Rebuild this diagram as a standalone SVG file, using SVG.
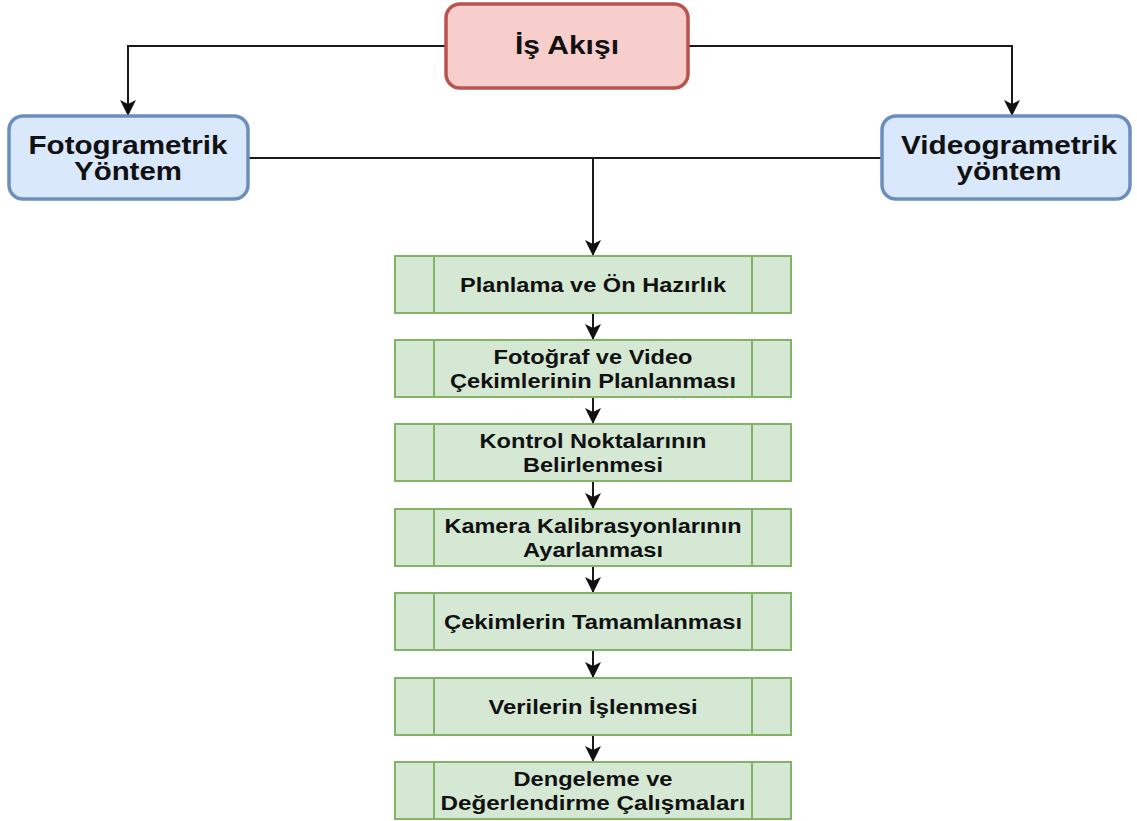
<svg xmlns="http://www.w3.org/2000/svg" width="1137" height="821" viewBox="0 0 1137 821">
<style>
.t{font-family:"Liberation Sans",Arial,sans-serif;font-weight:bold;fill:#111;text-anchor:middle}
.big{font-size:25px}
.sm{font-size:20px}
.red{fill:#f8cecc;stroke:#b85450;stroke-width:3.5}
.blue{fill:#dae8fc;stroke:#6c8ebf;stroke-width:3.5}
.grn{fill:#d5e8d4;stroke:#82b366;stroke-width:2}
.div{stroke:#82b366;stroke-width:2;fill:none}
.c{fill:none;stroke:#1a1a1a;stroke-width:2}
</style>
<defs>
<marker id="ah" markerUnits="userSpaceOnUse" markerWidth="18" markerHeight="18" viewBox="0 0 18 18" refX="16" refY="9" orient="auto">
<path d="M1,1 L17,9 L1,17 L5,9 Z" fill="#111"/>
</marker>
</defs>
<g id="connectors">
<path class="c" d="M446,46 H128 V115" marker-end="url(#ah)"/>
<path class="c" d="M688,46 H1012 V115" marker-end="url(#ah)"/>
<path class="c" d="M248,158 H882"/>
<path class="c" d="M593,158 V255" marker-end="url(#ah)"/>
<path class="c" d="M593,313 V339" marker-end="url(#ah)"/>
<path class="c" d="M593,397 V423" marker-end="url(#ah)"/>
<path class="c" d="M593,481 V508" marker-end="url(#ah)"/>
<path class="c" d="M593,566 V592" marker-end="url(#ah)"/>
<path class="c" d="M593,650 V677" marker-end="url(#ah)"/>
<path class="c" d="M593,735 V761" marker-end="url(#ah)"/>
</g>
<g id="is-akisi">
<rect class="red" x="446" y="4" width="242" height="84" rx="14"/>
<text class="t big" x="567" y="54" textLength="104" lengthAdjust="spacingAndGlyphs">İş Akışı</text>
</g>
<g id="fotogrametrik">
<rect class="blue" x="9" y="116" width="239" height="83" rx="14"/>
<text class="t big" x="128" y="154" textLength="199" lengthAdjust="spacingAndGlyphs">Fotogrametrik</text>
<text class="t big" x="128" y="180" textLength="108" lengthAdjust="spacingAndGlyphs">Yöntem</text>
</g>
<g id="videogrametrik">
<rect class="blue" x="882" y="116" width="248" height="83" rx="14"/>
<text class="t big" x="1009" y="154" textLength="216" lengthAdjust="spacingAndGlyphs">Videogrametrik</text>
<text class="t big" x="1009" y="180" textLength="105" lengthAdjust="spacingAndGlyphs">yöntem</text>
</g>
<g id="p1">
<rect class="grn" x="395" y="256" width="396" height="57"/>
<path class="div" d="M434,256 V313 M752,256 V313"/>
<text class="t sm" x="593" y="292" textLength="266" lengthAdjust="spacingAndGlyphs">Planlama ve Ön Hazırlık</text>
</g>
<g id="p2">
<rect class="grn" x="395" y="340" width="396" height="57"/>
<path class="div" d="M434,340 V397 M752,340 V397"/>
<text class="t sm" x="593" y="364" textLength="199" lengthAdjust="spacingAndGlyphs">Fotoğraf ve Video</text>
<text class="t sm" x="593" y="388" textLength="286" lengthAdjust="spacingAndGlyphs">Çekimlerinin Planlanması</text>
</g>
<g id="p3">
<rect class="grn" x="395" y="424" width="396" height="57"/>
<path class="div" d="M434,424 V481 M752,424 V481"/>
<text class="t sm" x="593" y="448" textLength="227" lengthAdjust="spacingAndGlyphs">Kontrol Noktalarının</text>
<text class="t sm" x="593" y="472" textLength="140" lengthAdjust="spacingAndGlyphs">Belirlenmesi</text>
</g>
<g id="p4">
<rect class="grn" x="395" y="509" width="396" height="57"/>
<path class="div" d="M434,509 V566 M752,509 V566"/>
<text class="t sm" x="593" y="533" textLength="297" lengthAdjust="spacingAndGlyphs">Kamera Kalibrasyonlarının</text>
<text class="t sm" x="593" y="557" textLength="140" lengthAdjust="spacingAndGlyphs">Ayarlanması</text>
</g>
<g id="p5">
<rect class="grn" x="395" y="593" width="396" height="57"/>
<path class="div" d="M434,593 V650 M752,593 V650"/>
<text class="t sm" x="593" y="629" textLength="298" lengthAdjust="spacingAndGlyphs">Çekimlerin Tamamlanması</text>
</g>
<g id="p6">
<rect class="grn" x="395" y="678" width="396" height="57"/>
<path class="div" d="M434,678 V735 M752,678 V735"/>
<text class="t sm" x="593" y="714" textLength="209" lengthAdjust="spacingAndGlyphs">Verilerin İşlenmesi</text>
</g>
<g id="p7">
<rect class="grn" x="395" y="762" width="396" height="57"/>
<path class="div" d="M434,762 V819 M752,762 V819"/>
<text class="t sm" x="593" y="786" textLength="159" lengthAdjust="spacingAndGlyphs">Dengeleme ve</text>
<text class="t sm" x="593" y="810" textLength="305" lengthAdjust="spacingAndGlyphs">Değerlendirme Çalışmaları</text>
</g>
</svg>
